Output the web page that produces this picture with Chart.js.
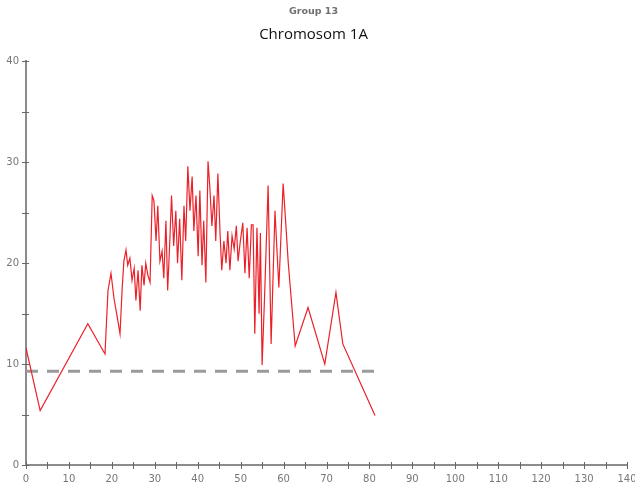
<!DOCTYPE html>
<html>
<head>
<meta charset="utf-8">
<title>Group 13 - Chromosom 1A</title>
<script src="https://cdn.jsdelivr.net/npm/chart.js@4.4.1/dist/chart.umd.min.js"></script>
<style>
  html, body { margin: 0; padding: 0; background: #fff; }
  #chart { display: block; }
</style>
</head>
<body>
<canvas id="chart" width="635" height="490"></canvas>
<script>
// map position (cM) and LOD score along the chromosome
const positions = [
  0, 3.3, 14.4, 18.4, 19.1, 19.8, 20.5, 21.2, 21.9, 22.4, 22.8, 23.3, 23.7, 24.2, 24.7,
  25.2, 25.6, 26.1, 26.6, 27.0, 27.5, 27.9, 28.4, 28.9, 29.4, 29.8, 30.3, 30.7, 31.2,
  31.7, 32.1, 32.6, 33.0, 33.5, 33.9, 34.4, 34.9, 35.3, 35.8, 36.3, 36.8, 37.2, 37.7,
  38.2, 38.7, 39.1, 39.6, 40.1, 40.5, 41.0, 41.4, 41.9, 42.4, 42.8, 43.3, 43.8, 44.2,
  44.7, 45.2, 45.6, 46.1, 46.6, 47.0, 47.5, 48.0, 48.5, 49.0, 49.4, 49.9, 50.5, 51.0,
  51.5, 52.0, 52.5, 52.9, 53.3, 53.8, 54.3, 54.6, 55.0, 55.6, 56.4, 57.1, 58.0, 58.9,
  59.9, 60.5, 61.1, 62.7, 65.7, 69.6, 72.2, 73.8, 81.3
];
const lodScores = [
  11.6, 5.4, 14.0, 11.0, 17.3, 19.0, 16.5, 14.8, 13.0, 17.5, 20.2, 21.3, 19.8, 20.5, 18.3,
  19.5, 16.3, 19.3, 15.3, 19.8, 17.8, 20.0, 18.8, 18.1, 26.7, 26.2, 22.2, 25.7, 20.2,
  21.2, 18.5, 24.2, 17.3, 22.2, 26.7, 21.7, 25.2, 20.0, 24.4, 18.3, 25.7, 22.2, 29.6,
  25.2, 28.6, 23.2, 26.7, 20.7, 27.2, 19.8, 24.2, 18.1, 30.1, 27.7, 23.7, 26.7, 22.2,
  28.9, 23.0, 19.3, 22.2, 20.0, 23.2, 19.3, 22.7, 21.4, 23.7, 20.2, 22.1, 24.0, 19.0,
  23.5, 18.5, 23.8, 23.8, 13.0, 23.5, 15.0, 23.0, 9.9, 17.0, 27.7, 12.0, 25.2, 17.6,
  27.9, 24.0, 20.0, 11.8, 15.6, 10.0, 17.1, 12.0, 4.9
];

// significance threshold, drawn over the scanned part of the chromosome
const thresholdLod = 9.3;
const thresholdSpan = [0, 82];

const xTickStep = 5;
const yTickStep = 5;

const axisColor = '#8c8c8c';
const labelColor = '#777';

// small cross-shaped tick marks sitting on both axes
const axisTicks = {
  id: 'axisTicks',
  afterDraw(chart) {
    const { ctx, scales: { x, y } } = chart;
    ctx.save();
    ctx.strokeStyle = '#666';
    ctx.lineWidth = 1;
    ctx.beginPath();
    x.ticks.forEach(t => {
      const px = Math.round(x.getPixelForValue(t.value)) + 0.5;
      ctx.moveTo(px, y.bottom - 3);
      ctx.lineTo(px, y.bottom + 4);
    });
    y.ticks.forEach(t => {
      const py = Math.round(y.getPixelForValue(t.value)) + 0.5;
      ctx.moveTo(x.left - 4, py);
      ctx.lineTo(x.left + 3, py);
    });
    ctx.stroke();
    ctx.restore();
  }
};

const tickLabel = v => (v % 10 === 0 ? String(v) : '');

new Chart(document.getElementById('chart'), {
  type: 'line',
  data: {
    datasets: [
      {
        label: 'LOD',
        data: positions.map((p, i) => ({ x: p, y: lodScores[i] })),
        borderColor: 'rgb(236, 32, 40)',
        borderWidth: 1.2,
        pointRadius: 0,
        tension: 0,
        order: 1
      },
      {
        label: 'Threshold',
        data: thresholdSpan.map(p => ({ x: p, y: thresholdLod })),
        borderColor: '#9a9a9a',
        borderWidth: 3,
        borderDash: [12, 9],
        pointRadius: 0,
        order: 2
      }
    ]
  },
  options: {
    responsive: false,
    animation: false,
    layout: { padding: { left: 0, right: 8, top: 0, bottom: 0 } },
    plugins: {
      legend: { display: false },
      tooltip: { enabled: false },
      title: {
        display: true,
        text: 'Group 13',
        color: '#6f6f6f',
        font: { family: 'DejaVu Sans', size: 9.5, weight: 'bold' },
        padding: { top: 6, bottom: 0 }
      },
      subtitle: {
        display: true,
        text: 'Chromosom 1A',
        color: '#111',
        font: { family: 'Open Sans', size: 15 },
        padding: { top: 8, bottom: 18 }
      }
    },
    scales: {
      x: {
        type: 'linear',
        min: 0,
        max: 140,
        grid: { display: false, drawTicks: false },
        border: { display: true, color: axisColor, width: 2 },
        ticks: {
          stepSize: xTickStep,
          autoSkip: false,
          maxRotation: 0,
          padding: 8,
          color: labelColor,
          font: { family: 'DejaVu Sans', size: 10 },
          callback: tickLabel
        },
        afterFit(scale) {
          scale.height = 25;
          // let the last label run up to the canvas edge
          scale.paddingLeft = 0;
          scale.paddingRight = 0;
        }
      },
      y: {
        min: 0,
        max: 40,
        grid: { display: false, drawTicks: false },
        border: { display: true, color: axisColor, width: 2 },
        ticks: {
          stepSize: yTickStep,
          autoSkip: false,
          padding: 7,
          color: labelColor,
          font: { family: 'DejaVu Sans', size: 10 },
          callback: tickLabel
        },
        afterFit(scale) {
          scale.width = 26;
          scale.paddingTop = 0;
          scale.paddingBottom = 0;
        }
      }
    }
  },
  plugins: [axisTicks]
});
</script>
</body>
</html>
